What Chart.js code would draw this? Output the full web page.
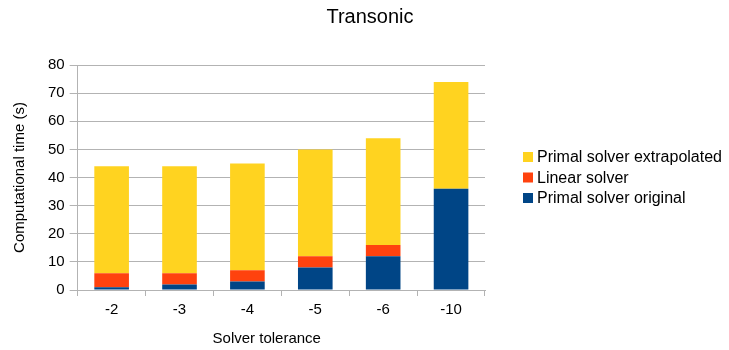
<!DOCTYPE html>
<html>
<head>
<meta charset="utf-8">
<script src="https://cdn.jsdelivr.net/npm/chart.js@4.4.1/dist/chart.umd.min.js"></script>
<style>
  html, body { margin: 0; padding: 0; background: #ffffff; }
  #wrap { width: 729px; height: 350px; }
</style>
</head>
<body>
<div id="wrap"><canvas id="c" width="729" height="350"></canvas></div>
<script>
// Solver tolerance categories (log10 of tolerance)
const tolerances = ['-2', '-3', '-4', '-5', '-6', '-10'];
// Stacked computational time components, seconds
const primalOriginal = [1, 2, 3, 8, 12, 36];
const linearSolver = [5, 4, 4, 4, 4, 0];
const primalExtrapolated = [38, 38, 38, 38, 38, 38];
const yTicks = [0, 10, 20, 30, 40, 50, 60, 70, 80];

const gridColor = '#b3b3b3';
const font = 'Liberation Sans, Arial, sans-serif';

// Legend on the right, listed top-down in stacking order (top segment first)
const sideLegend = {
  id: 'sideLegend',
  afterDraw(chart) {
    const ctx = chart.ctx;
    const area = chart.chartArea;
    const sets = chart.data.datasets.slice().reverse();
    const rowH = 20.5;
    const x0 = area.right + 38;
    const yMid = (area.top + area.bottom) / 2;
    const yStart = yMid - rowH * (sets.length - 1) / 2;
    ctx.save();
    ctx.font = '16px ' + font;
    ctx.textBaseline = 'middle';
    ctx.textAlign = 'left';
    sets.forEach((ds, i) => {
      const y = yStart + i * rowH;
      ctx.fillStyle = ds.backgroundColor;
      ctx.fillRect(x0, y - 5, 10, 10);
      ctx.fillStyle = '#000';
      ctx.fillText(ds.label, x0 + 14, y + 1);
    });
    ctx.restore();
  }
};

new Chart(document.getElementById('c'), {
  type: 'bar',
  data: {
    labels: tolerances,
    datasets: [
      { label: 'Primal solver original', data: primalOriginal, backgroundColor: '#004586' },
      { label: 'Linear solver', data: linearSolver, backgroundColor: '#ff420e' },
      { label: 'Primal solver extrapolated', data: primalExtrapolated, backgroundColor: '#ffd320' }
    ]
  },
  plugins: [sideLegend],
  options: {
    responsive: false,
    animation: false,
    devicePixelRatio: 1,
    layout: { padding: { left: 11, right: 0, top: 0, bottom: 2 } },
    datasets: { bar: { categoryPercentage: 1, barPercentage: 0.51 } },
    plugins: {
      title: {
        display: true,
        text: 'Transonic',
        color: '#000',
        font: { family: font, size: 20, weight: 'normal' },
        padding: { top: 5, bottom: 36 }
      },
      legend: { display: false },
      tooltip: { enabled: false }
    },
    scales: {
      x: {
        stacked: true,
        grid: {
          offset: true,
          color: (ctx) => (ctx.index === 0 || ctx.index === tolerances.length) ? gridColor : 'rgba(0,0,0,0)',
          tickColor: gridColor,
          tickLength: 6
        },
        border: { display: true, color: gridColor },
        ticks: { color: '#000', font: { family: font, size: 15 }, padding: 5 },
        title: {
          display: true,
          text: 'Solver tolerance       ',
          color: '#000',
          font: { family: font, size: 15 },
          padding: { top: 6, bottom: 0 }
        }
      },
      y: {
        stacked: true,
        min: 0,
        max: 80,
        afterBuildTicks: (axis) => { axis.ticks = yTicks.map(v => ({ value: v })); },
        grid: { color: gridColor, tickLength: 8, tickColor: gridColor },
        border: { display: true, color: gridColor },
        ticks: { color: '#000', font: { family: font, size: 15 }, padding: 5 },
        title: {
          display: true,
          text: 'Computational time (s)',
          color: '#000',
          font: { family: font, size: 15 },
          padding: { top: 0, bottom: 14 }
        }
      },
      // Empty right-hand axis that reserves room for the legend
      legendSpace: {
        type: 'linear',
        position: 'right',
        display: true,
        grid: { display: false },
        border: { display: false },
        ticks: { display: false },
        afterFit: (axis) => { axis.width = 244; }
      }
    }
  }
});
</script>
</body>
</html>
